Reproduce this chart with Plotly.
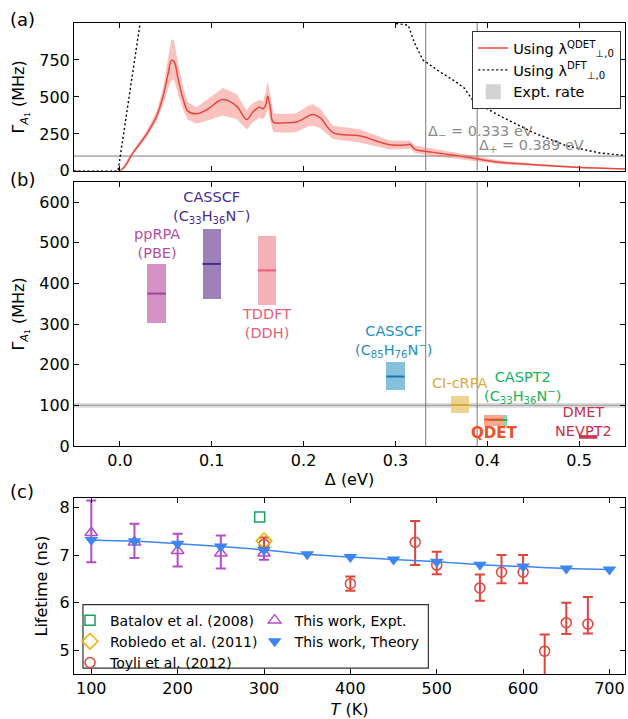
import plotly.graph_objects as go

FONT = "DejaVu Sans"

# ---------------- (a) A1 relaxation rate vs. Δ ----------------
delta_grid = [-0.05, 0.0, 0.0145, 0.029, 0.04, 0.047, 0.0526, 0.056, 0.059, 0.0635,
              0.069, 0.074, 0.0835, 0.095, 0.112, 0.127, 0.138, 0.145, 0.152, 0.156,
              0.159, 0.161, 0.164, 0.167, 0.18, 0.192, 0.205, 0.21, 0.218, 0.232,
              0.261, 0.294, 0.312, 0.316, 0.321, 0.341, 0.3665, 0.385, 0.414, 0.45,
              0.497, 0.552]
gamma_qdet = [0, 0, 125, 248, 371, 505, 661, 746, 740, 617,
              483, 404, 386, 415, 482, 438, 348, 400, 431, 420,
              450, 505, 420, 330, 325, 330, 370, 382, 360, 259,
              237, 176, 176, 180, 147, 125, 103, 85, 58, 42,
              25, 13]
gamma_qdet_lo = [0, 0, 110, 226, 337, 445, 560, 610, 615, 515,
                 410, 345, 318, 340, 375, 350, 280, 330, 360, 350,
                 380, 420, 330, 262, 258, 262, 300, 305, 290, 215,
                 192, 145, 148, 152, 122, 98, 82, 66, 45, 34,
                 20, 10]
gamma_qdet_hi = [0, 0, 140, 270, 404, 560, 770, 890, 880, 720,
                 560, 465, 430, 480, 560, 520, 410, 460, 480, 470,
                 540, 610, 510, 390, 385, 390, 440, 450, 420, 305,
                 281, 205, 203, 206, 172, 152, 124, 103, 70, 50,
                 30, 16]

delta_dft = [-0.05, -0.002, 0.022, 0.03, 0.295, 0.2995, 0.314, 0.321, 0.330, 0.348,
             0.365, 0.375, 0.385, 0.414, 0.45, 0.486, 0.5225, 0.552]
gamma_dft = [0, 0, 1000, 1100, 1050, 998, 985, 862, 750, 672,
             605, 560, 471, 371, 259, 170, 121, 103]

expt_rate = 100
expt_rate_err = 6
delta_minus = 0.333
delta_plus = 0.389

# ---------------- (b) rates predicted by different methods ----------------
method_names = ["ppRPA (PBE)", "CASSCF (C33H36N-)", "TDDFT (DDH)", "CASSCF (C85H76N-)",
                "CI-cRPA", "CASPT2 (C33H36N-)", "QDET", "DMET NEVPT2"]
method_delta = [0.04, 0.10, 0.16, 0.30, 0.37, 0.412, 0.407, 0.51]
method_gamma = [375, 448, 432, 171, 101, 64, 65, 23]
method_gamma_lo = [302, 362, 348, 138, 81, 51, 51, 18.5]
method_gamma_hi = [448, 535, 516, 207, 123, 77, 77, 27]

method_fill = ["#d492c6", "#9d82ba", "#f4b1b8", "#86c1dc", "#ecd48e", "#86d8a6", "#f6a98f", "#d36a7a"]
method_line = ["#a0449a", "#4b2a8c", "#e8607a", "#1877b0", "#dca83a", "#20b060", "#f05028", "#c8304a"]

# label text, x, y (centre of text block), colour, bold
method_labels = [
    ("ppRPA<br>(PBE)", 0.04, 498, "#b04fa6", False),
    ("CASSCF<br>(C<sub>33</sub>H<sub>36</sub>N<sup>−</sup>)", 0.10, 586, "#4b2c8a", False),
    ("TDDFT<br>(DDH)", 0.16, 302, "#e8607a", False),
    ("CASSCF<br>(C<sub>85</sub>H<sub>76</sub>N<sup>−</sup>)", 0.298, 258, "#1f8fc0", False),
    ("CI-cRPA", 0.3695, 154, "#e0a838", False),
    ("CASPT2<br>(C<sub>33</sub>H<sub>36</sub>N<sup>−</sup>)", 0.439, 144, "#20b060", False),
    ("QDET", 0.407, 31, "#f05028", True),
    ("DMET<br>NEVPT2", 0.505, 60, "#c8304a", False),
]

# ---------------- (c) radiative lifetime vs. temperature ----------------
batalov_T = [295]
batalov_tau = [7.8]
robledo_T = [300]
robledo_tau = [7.3]
toyli_T = [300, 400, 475, 500, 550, 575, 600, 625, 650, 675]
toyli_tau = [7.23, 6.40, 7.27, 6.79, 6.31, 6.64, 6.64, 4.98, 5.58, 5.55]
toyli_err_plus = [0.14, 0.15, 0.45, 0.28, 0.28, 0.36, 0.36, 0.35, 0.42, 0.57]
toyli_err_minus = [0.13, 0.15, 0.48, 0.19, 0.27, 0.23, 0.23, 0.50, 0.24, 0.20]
expt_T = [100, 150, 200, 250, 300]
expt_tau = [7.47, 7.27, 7.09, 7.04, 7.04]
expt_err_plus = [0.68, 0.39, 0.36, 0.37, 0.13]
expt_err_minus = [0.62, 0.33, 0.33, 0.32, 0.14]
theory_T = [100, 150, 200, 250, 300, 350, 400, 450, 500, 550, 600, 650, 700]
theory_tau = [7.32, 7.29, 7.24, 7.18, 7.11, 7.02, 6.96, 6.91, 6.86, 6.80, 6.76, 6.72, 6.70]

fig = go.Figure()

# ---- panel (a) ----
fig.add_trace(go.Scatter(
    x=delta_grid + delta_grid[::-1], y=gamma_qdet_hi + gamma_qdet_lo[::-1],
    fill="toself", fillcolor="rgba(240,110,100,0.42)", line=dict(width=0),
    mode="lines", hoverinfo="skip", showlegend=False, xaxis="x", yaxis="y"))
fig.add_trace(go.Scatter(
    x=delta_grid, y=gamma_qdet, mode="lines", line=dict(color="#e5483c", width=1.5),
    line_shape="spline", name="Using λ<sup>QDET</sup><sub>⊥,0</sub>",
    legend="legend", xaxis="x", yaxis="y"))
fig.add_trace(go.Scatter(
    x=delta_dft, y=gamma_dft, mode="lines",
    line=dict(color="black", width=1.4, dash="2px,2.5px"),
    name="Using λ<sup>DFT</sup><sub>⊥,0</sub>", legend="legend", xaxis="x", yaxis="y"))
fig.add_trace(go.Scatter(
    x=[None], y=[None], mode="markers",
    marker=dict(symbol="square", size=15, color="#d3d3d3"),
    name="Expt. rate", legend="legend", xaxis="x", yaxis="y"))

# ---- panel (b) ----
fig.add_trace(go.Bar(
    x=method_delta,
    y=[h - l for h, l in zip(method_gamma_hi, method_gamma_lo)],
    base=method_gamma_lo, width=0.02,
    marker=dict(color=method_fill, line=dict(width=0)),
    showlegend=False, hovertext=method_names, xaxis="x2", yaxis="y2"))
for d, g, c in zip(method_delta, method_gamma, method_line):
    fig.add_trace(go.Scatter(
        x=[d - 0.01, d + 0.01], y=[g, g], mode="lines",
        line=dict(color=c, width=2), showlegend=False, xaxis="x2", yaxis="y2"))

# ---- panel (c) ----
fig.add_trace(go.Scatter(
    x=expt_T, y=expt_tau, mode="markers", name="This work, Expt.",
    marker=dict(symbol="triangle-up-open", size=11, color="#b34fc6", line=dict(width=1.5)),
    error_y=dict(type="data", array=expt_err_plus, arrayminus=expt_err_minus,
                 color="#b34fc6", thickness=2, width=5),
    legend="legend3", legendrank=1, xaxis="x3", yaxis="y3"))
fig.add_trace(go.Scatter(
    x=toyli_T, y=toyli_tau, mode="markers", name="Toyli et al. (2012)",
    marker=dict(symbol="circle-open", size=10, color="#e0453a", line=dict(width=1.5)),
    error_y=dict(type="data", array=toyli_err_plus, arrayminus=toyli_err_minus,
                 color="#e0453a", thickness=2, width=5),
    legend="legend2", legendrank=3, xaxis="x3", yaxis="y3"))
fig.add_trace(go.Scatter(
    x=batalov_T, y=batalov_tau, mode="markers", name="Batalov et al. (2008)",
    marker=dict(symbol="square-open", size=10, color="#1aa060", line=dict(width=1.5)),
    legend="legend2", legendrank=1, xaxis="x3", yaxis="y3"))
fig.add_trace(go.Scatter(
    x=robledo_T, y=robledo_tau, mode="markers", name="Robledo et al. (2011)",
    marker=dict(symbol="diamond-open", size=12, color="#f0b000", line=dict(width=1.5)),
    legend="legend2", legendrank=2, xaxis="x3", yaxis="y3"))
fig.add_trace(go.Scatter(
    x=theory_T, y=theory_tau, mode="lines",
    line=dict(color="#3d85f0", width=1.5, shape="spline"),
    showlegend=False, xaxis="x3", yaxis="y3"))
fig.add_trace(go.Scatter(
    x=theory_T, y=theory_tau, mode="markers", name="This work, Theory",
    marker=dict(symbol="triangle-down", size=12, color="#3d85f0"),
    legend="legend3", legendrank=2, xaxis="x3", yaxis="y3"))

# ---- shapes: expt band, Δ± markers, legend frame for (c) ----
shapes = []
for yref, xref in (("y", "x"), ("y2", "x2")):
    shapes.append(dict(type="rect", xref=xref + " domain", yref=yref, x0=0, x1=1,
                       y0=expt_rate - expt_rate_err, y1=expt_rate + expt_rate_err,
                       fillcolor="#dadada", line=dict(width=0), layer="below"))
    shapes.append(dict(type="line", xref=xref + " domain", yref=yref, x0=0, x1=1,
                       y0=expt_rate, y1=expt_rate, line=dict(color="#a8a8a8", width=1.3),
                       layer="below"))
    for d in (delta_minus, delta_plus):
        shapes.append(dict(type="line", xref=xref, yref=yref + " domain", x0=d, x1=d,
                           y0=0, y1=1, line=dict(color="#7a7a7a", width=1), layer="below"))
shapes.append(dict(type="rect", xref="paper", yref="paper",
                   x0=(83 - 74) / 552, x1=(429 - 74) / 552,
                   y0=(679 - 673) / 656, y1=(679 - 609) / 656,
                   line=dict(color="#333333", width=1.2), fillcolor="white", layer="below"))

annotations = []
for text, x, y, c, bold in method_labels:
    annotations.append(dict(
        x=x, y=y, xref="x2", yref="y2", showarrow=False,
        text=f"<b>{text}</b>" if bold else text,
        font=dict(family=FONT, size=14.5 if not bold else 15, color=c),
        xanchor="center", yanchor="middle"))
annotations.append(dict(x=delta_minus, y=261, xref="x", yref="y", showarrow=False,
                        text="Δ<sub>−</sub> = 0.333 eV", xanchor="left", yanchor="middle",
                        font=dict(family=FONT, size=14.5, color="#8a8a8a")))
annotations.append(dict(x=delta_plus, y=168, xref="x", yref="y", showarrow=False,
                        text="Δ<sub>+</sub> = 0.389 eV", xanchor="left", yanchor="middle",
                        font=dict(family=FONT, size=14.5, color="#8a8a8a")))
for lab, yp in (("(a)", 19), ("(b)", 181), ("(c)", 495)):
    annotations.append(dict(x=(8 - 74) / 552, y=(679 - yp) / 656, xref="paper", yref="paper",
                            text=lab, showarrow=False, xanchor="left", yanchor="middle",
                            font=dict(family=FONT, size=18, color="black")))

axis_common = dict(showline=True, linecolor="black", linewidth=1, mirror="allticks",
                   ticks="inside", ticklen=5, tickwidth=1, tickcolor="black",
                   showgrid=False, zeroline=False,
                   tickfont=dict(family=FONT, size=16, color="black"))

d_a = [(679 - 172) / 656, 1.0]
d_b = [(679 - 449.3) / 656, (679 - 183) / 656]
d_c = [0.0, (679 - 501.7) / 656]

gamma_title = "Γ<sub><i>A</i><sub>1</sub></sub> (MHz)"

fig.update_layout(
    width=628, height=719,
    margin=dict(l=74, r=2, t=23, b=40),
    paper_bgcolor="white", plot_bgcolor="white",
    font=dict(family=FONT, size=14, color="black"),
    xaxis=dict(axis_common, domain=[0, 1], range=[-0.05, 0.55], dtick=0.1, tick0=0,
               showticklabels=False, anchor="y"),
    yaxis=dict(axis_common, domain=d_a, range=[0, 1000], tickvals=[0, 250, 500, 750],
               anchor="x", title=dict(text=gamma_title, standoff=10,
                                      font=dict(family=FONT, size=16))),
    xaxis2=dict(axis_common, domain=[0, 1], range=[-0.05, 0.55], dtick=0.1, tick0=0,
                tickformat=".1f", anchor="y2",
                title=dict(text="Δ (eV)", standoff=4, font=dict(family=FONT, size=16))),
    yaxis2=dict(axis_common, domain=d_b, range=[0, 650], dtick=100, anchor="x2",
                title=dict(text=gamma_title, standoff=10, font=dict(family=FONT, size=16))),
    xaxis3=dict(axis_common, domain=[0, 1], range=[80, 718], dtick=100, anchor="y3",
                title=dict(text="<i>T</i> (K)", standoff=8, font=dict(family=FONT, size=16))),
    yaxis3=dict(axis_common, domain=d_c, range=[4.5, 8.2], dtick=1, anchor="x3",
                title=dict(text="Lifetime (ns)", standoff=8, font=dict(family=FONT, size=16))),
    legend=dict(x=(622 - 74) / 552, y=(679 - 31) / 656, xanchor="right", yanchor="top",
                bgcolor="white", bordercolor="#333333", borderwidth=1.2,
                font=dict(family=FONT, size=14.5), itemwidth=30, tracegroupgap=0),
    legend2=dict(x=(70 - 74) / 552, y=(679 - 609) / 656, xanchor="left", yanchor="top",
                 bgcolor="rgba(0,0,0,0)", borderwidth=0,
                 font=dict(family=FONT, size=14), itemwidth=30),
    legend3=dict(x=(255 - 74) / 552, y=(679 - 609) / 656, xanchor="left", yanchor="top",
                 bgcolor="rgba(0,0,0,0)", borderwidth=0,
                 font=dict(family=FONT, size=14), itemwidth=30),
    shapes=shapes,
    annotations=annotations,
    bargap=0,
)

fig.write_html("out.html")
